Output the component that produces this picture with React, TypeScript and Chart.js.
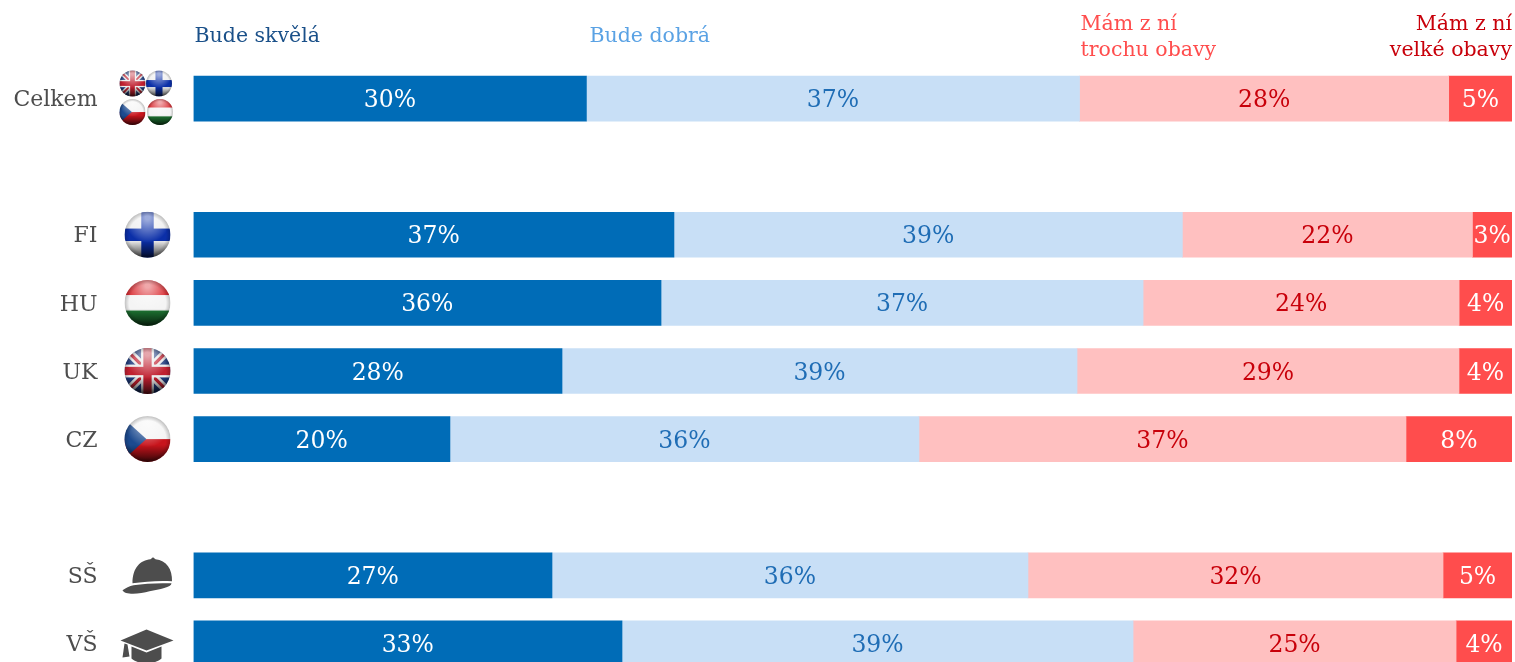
import React, { useEffect, useRef } from "react";
import { Chart, registerables } from "chart.js";

Chart.register(...registerables);

const FONT = '"DejaVu Serif", serif';

const categories = ["Celkem", "", "FI", "HU", "UK", "CZ", "", "SŠ", "VŠ"];
const icons = ["all", "", "fi", "hu", "uk", "cz", "", "cap", "grad"];

const seriesNames = ["Bude skvělá", "Bude dobrá", "Mám z ní trochu obavy", "Mám z ní velké obavy"];

// Bar lengths (shares of the full bar)
const great = [29.8, null, 36.44, 35.46, 27.95, 19.45, null, 27.19, 32.5];
const good = [37.4, null, 38.56, 36.56, 39.06, 35.57, null, 36.1, 38.76];
const someWorry = [28.0, null, 22.0, 23.97, 28.97, 36.94, null, 31.48, 24.5];
const bigWorry = [4.8, null, 3.0, 4.01, 4.02, 8.04, null, 5.23, 4.24];

// Printed labels
const greatLabels = ["30%", "", "37%", "36%", "28%", "20%", "", "27%", "33%"];
const goodLabels = ["37%", "", "39%", "37%", "39%", "36%", "", "36%", "39%"];
const someWorryLabels = ["28%", "", "22%", "24%", "29%", "37%", "", "32%", "25%"];
const bigWorryLabels = ["5%", "", "3%", "4%", "4%", "8%", "", "5%", "4%"];

const barColors = ["#006cb7", "#c8dff6", "#ffc0c0", "#ff4d4d"];
const valueColors = ["#ffffff", "#1f6db5", "#c8000a", "#ffffff"];
const headerColors = ["#1a5089", "#5aa2e4", "#ff4d4d", "#c8000a"];

function sphere(ctx: CanvasRenderingContext2D, cx: number, cy: number, r: number, draw: () => void) {
  ctx.save();
  ctx.beginPath();
  ctx.arc(cx, cy, r, 0, Math.PI * 2);
  ctx.clip();
  draw();
  const top = ctx.createRadialGradient(cx, cy - r * 0.75, r * 0.1, cx, cy - r * 0.6, r * 0.95);
  top.addColorStop(0, "rgba(255,255,255,0.6)");
  top.addColorStop(1, "rgba(255,255,255,0)");
  ctx.fillStyle = top;
  ctx.fillRect(cx - r, cy - r, 2 * r, 2 * r);
  const bottom = ctx.createLinearGradient(0, cy + r * 0.25, 0, cy + r);
  bottom.addColorStop(0, "rgba(0,0,0,0)");
  bottom.addColorStop(1, "rgba(0,0,0,0.75)");
  ctx.fillStyle = bottom;
  ctx.fillRect(cx - r, cy, 2 * r, r);
  const edge = ctx.createRadialGradient(cx, cy, r * 0.8, cx, cy, r);
  edge.addColorStop(0, "rgba(0,0,0,0)");
  edge.addColorStop(1, "rgba(0,0,0,0.22)");
  ctx.fillStyle = edge;
  ctx.fillRect(cx - r, cy - r, 2 * r, 2 * r);
  ctx.restore();
}

function drawFlag(ctx: CanvasRenderingContext2D, kind: string, cx: number, cy: number, r: number) {
  const L = cx - r, T = cy - r, S = 2 * r;
  sphere(ctx, cx, cy, r, () => {
    if (kind === "fi") {
      ctx.fillStyle = "#efefef";
      ctx.fillRect(L, T, S, S);
      ctx.fillStyle = "#0b2fa8";
      ctx.fillRect(cx - r * 0.27, T, r * 0.54, S);
      ctx.fillRect(L, cy - r * 0.27, S, r * 0.54);
    } else if (kind === "hu") {
      ctx.fillStyle = "#d9262c";
      ctx.fillRect(L, T, S, S / 3);
      ctx.fillStyle = "#f4f4f4";
      ctx.fillRect(L, T + S / 3, S, S / 3);
      ctx.fillStyle = "#1f7a34";
      ctx.fillRect(L, T + (2 * S) / 3, S, S / 3);
    } else if (kind === "cz") {
      ctx.fillStyle = "#f4f4f4";
      ctx.fillRect(L, T, S, r);
      ctx.fillStyle = "#c8141c";
      ctx.fillRect(L, cy, S, r);
      ctx.fillStyle = "#1c4a8f";
      ctx.beginPath();
      ctx.moveTo(L - 1, T + r * 0.1);
      ctx.lineTo(cx - r * 0.05, cy);
      ctx.lineTo(L - 1, T + S - r * 0.1);
      ctx.closePath();
      ctx.fill();
    } else if (kind === "uk") {
      ctx.fillStyle = "#1d3a7d";
      ctx.fillRect(L, T, S, S);
      ctx.lineCap = "butt";
      const diag = (w: number, c: string) => {
        ctx.strokeStyle = c;
        ctx.lineWidth = w;
        ctx.beginPath();
        ctx.moveTo(L, T);
        ctx.lineTo(L + S, T + S);
        ctx.moveTo(L + S, T);
        ctx.lineTo(L, T + S);
        ctx.stroke();
      };
      diag(r * 0.36, "#e8e8e8");
      diag(r * 0.14, "#c02030");
      ctx.fillStyle = "#ececec";
      ctx.fillRect(cx - r * 0.28, T, r * 0.56, S);
      ctx.fillRect(L, cy - r * 0.28, S, r * 0.56);
      ctx.fillStyle = "#c02030";
      ctx.fillRect(cx - r * 0.18, T, r * 0.36, S);
      ctx.fillRect(L, cy - r * 0.18, S, r * 0.36);
    }
  });
}

function drawCap(ctx: CanvasRenderingContext2D, cx: number, cy: number) {
  ctx.save();
  ctx.translate(cx, cy);
  ctx.fillStyle = "#4d4d4d";
  ctx.beginPath();
  ctx.moveTo(-15, 8);
  ctx.bezierCurveTo(-15, -8, -7, -15, 3, -16);
  ctx.lineTo(5.5, -18);
  ctx.lineTo(8, -16);
  ctx.bezierCurveTo(19, -15, 25, -6, 24.5, 6);
  ctx.bezierCurveTo(14, 5, -3, 6, -15, 8);
  ctx.closePath();
  ctx.fill();
  ctx.beginPath();
  ctx.moveTo(-25, 15);
  ctx.bezierCurveTo(-22, 13, -18, 10.5, -14, 10);
  ctx.bezierCurveTo(-3, 8, 12, 7.5, 24, 8);
  ctx.bezierCurveTo(24, 12, 12, 14, 2, 16);
  ctx.bezierCurveTo(-8, 19, -23, 20, -25, 15);
  ctx.closePath();
  ctx.fill();
  ctx.restore();
}

function drawGrad(ctx: CanvasRenderingContext2D, cx: number, cy: number) {
  ctx.save();
  ctx.translate(cx, cy);
  ctx.fillStyle = "#4d4d4d";
  ctx.beginPath();
  ctx.moveTo(-16, 3);
  ctx.lineTo(-1, 9);
  ctx.lineTo(14, 3);
  ctx.lineTo(14, 15);
  ctx.bezierCurveTo(8, 21, -10, 21, -16, 15);
  ctx.closePath();
  ctx.fill();
  ctx.beginPath();
  ctx.moveTo(-27, -3);
  ctx.lineTo(-1, -14);
  ctx.lineTo(26, -3);
  ctx.lineTo(-1, 7);
  ctx.closePath();
  ctx.fill();
  ctx.beginPath();
  ctx.moveTo(-23, 0);
  ctx.lineTo(-20, 1);
  ctx.lineTo(-18, 13);
  ctx.lineTo(-25, 14);
  ctx.closePath();
  ctx.fill();
  ctx.restore();
}

const overlayPlugin = {
  id: "overlay",
  afterDatasetsDraw(chart: any) {
    const ctx: CanvasRenderingContext2D = chart.ctx;
    const labelSets = [greatLabels, goodLabels, someWorryLabels, bigWorryLabels];

    // values centred in each segment
    ctx.save();
    ctx.font = `23.5px ${FONT}`;
    ctx.textAlign = "center";
    ctx.textBaseline = "middle";
    chart.data.datasets.forEach((_: any, d: number) => {
      chart.getDatasetMeta(d).data.forEach((bar: any, i: number) => {
        const text = labelSets[d][i];
        if (!text) return;
        ctx.fillStyle = valueColors[d];
        ctx.fillText(text, (bar.x + bar.base) / 2, bar.y + 2.5);
      });
    });

    // column headings, aligned to the first row's segments
    const m = [0, 1, 2, 3].map((d) => chart.getDatasetMeta(d).data[0]);
    ctx.font = `20.5px ${FONT}`;
    ctx.textBaseline = "alphabetic";
    ctx.textAlign = "left";
    ctx.fillStyle = headerColors[0];
    ctx.fillText(seriesNames[0], m[0].base + 1, 42);
    ctx.fillStyle = headerColors[1];
    ctx.fillText(seriesNames[1], m[1].base + 3, 42);
    ctx.fillStyle = headerColors[2];
    ctx.fillText("Mám z ní", m[2].base + 1, 29.5);
    ctx.fillText("trochu obavy", m[2].base + 1, 56);
    ctx.textAlign = "right";
    ctx.fillStyle = headerColors[3];
    ctx.fillText("Mám z ní", m[3].x, 29.5);
    ctx.fillText("velké obavy", m[3].x, 56);
    ctx.restore();

    // row icons
    const yScale = chart.scales.y;
    const cx = 147.5;
    icons.forEach((kind, i) => {
      if (!kind) return;
      const y = yScale.getPixelForValue(i);
      if (kind === "all") {
        drawFlag(ctx, "uk", 132.5, y - 15, 13);
        drawFlag(ctx, "fi", 159, y - 15, 13);
        drawFlag(ctx, "cz", 132.5, y + 13.5, 13);
        drawFlag(ctx, "hu", 160, y + 13.5, 13);
      } else if (kind === "cap") {
        drawCap(ctx, cx, y);
      } else if (kind === "grad") {
        drawGrad(ctx, cx, y);
      } else {
        drawFlag(ctx, kind, cx, y, 23);
      }
    });
  },
};

export default function App() {
  const ref = useRef<HTMLCanvasElement>(null);
  useEffect(() => {
    const values = [great, good, someWorry, bigWorry];
    const chart = new Chart(ref.current!, {
      type: "bar",
      data: {
        labels: categories,
        datasets: values.map((data, i) => ({
          label: seriesNames[i],
          data,
          backgroundColor: barColors[i],
          barThickness: 45,
          borderWidth: 0,
        })),
      },
      options: {
        indexAxis: "y",
        animation: false,
        responsive: false,
        layout: { padding: { top: 64.5, bottom: 22.5, left: 0, right: 3 } },
        plugins: { legend: { display: false }, tooltip: { enabled: false } },
        scales: {
          x: { stacked: true, display: false, min: 0, max: 100 },
          y: {
            stacked: true,
            offset: true,
            border: { display: false },
            grid: { display: false, drawTicks: false },
            ticks: {
              padding: 96,
              labelOffset: 2,
              color: "#4d4d4d",
              font: { family: FONT, size: 22 },
              autoSkip: false,
            },
            afterFit(scale: any) {
              scale.width = 193.5;
              scale.paddingTop = 0;
              scale.paddingBottom = 0;
            },
          },
        },
      },
      plugins: [overlayPlugin],
    } as any);
    return () => chart.destroy();
  }, []);
  return (
    <div style={{ position: "absolute", left: 0, top: 0, width: 1515, height: 662, overflow: "hidden", background: "#fff" }}>
      <canvas ref={ref} width={1515} height={700} style={{ display: "block" }} />
    </div>
  );
}
